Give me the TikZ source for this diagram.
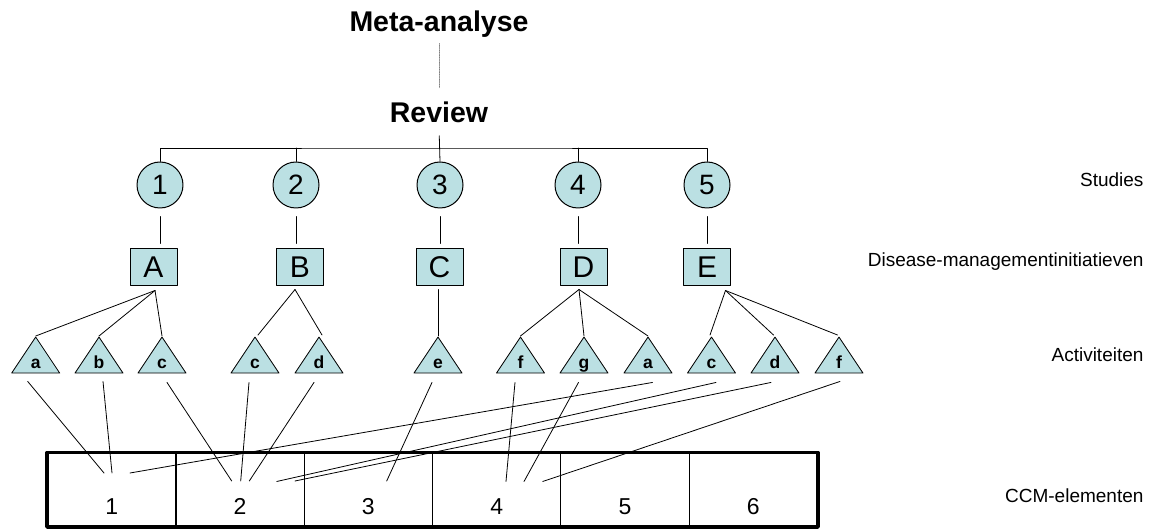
\documentclass[tikz,border=0pt]{standalone}
\usepackage{fontspec}
\setmainfont{Liberation Sans}
\usetikzlibrary{shapes.geometric,calc}
\definecolor{tealfill}{RGB}{187,224,227}
\tikzset{
  study/.style={circle, draw, line width=1pt, fill=tealfill, minimum size=46pt, inner sep=0pt, font=\fontsize{28}{28}\selectfont},
  dmi/.style={rectangle, draw, line width=1pt, fill=tealfill, minimum width=47pt, minimum height=37pt, inner sep=0pt, font=\fontsize{30}{30}\selectfont},
  act/.style={isosceles triangle, isosceles triangle stretches, shape border rotate=90, draw, line width=0.8pt, fill=tealfill, minimum width=48pt, minimum height=36pt, inner sep=0pt, anchor=apex},
  actlbl/.style={anchor=base, yshift=5pt, font=\fontsize{17.5}{17.5}\selectfont\bfseries},
  cell/.style={rectangle, draw, line width=1.2pt, minimum width=128.3pt, inner sep=0pt, text height=61.3pt, text depth=12pt, anchor=south west, font=\fontsize{23}{23}\selectfont},
  level/.style={anchor=base east, font=\fontsize{19}{19}\selectfont},
  head/.style={anchor=base, font=\fontsize{28.5}{28.5}\selectfont\bfseries},
  link/.style={line width=0.8pt}
}
\begin{document}
\begin{tikzpicture}[x=1pt, y=-1pt, line join=round, line cap=round]
\useasboundingbox (0,0) rectangle (1157,529);
% titles
\node[head] (meta) at (439,32) {Meta-analyse};
\node[head] (rev) at (439,123) {Review};
\draw[gray, densely dotted, line width=0.7pt, shorten <=2pt, shorten >=11pt] (meta.south) -- (rev.north);
% studies
\node[study] (s1) at (160,185) {1};
\node[study] (s2) at (296,185) {2};
\node[study] (s3) at (440,185) {3};
\node[study] (s4) at (578,185) {4};
\node[study] (s5) at (707,185) {5};
\coordinate (bar) at (440,148);
\draw[link] (s1.north) |- (bar) -| (s5.north);
\foreach \s in {s2,s4} \draw[link] (\s.north) -- (\s.north |- bar);
\draw[link, shorten <=9pt] (rev.south) -- (s3.north);
% disease-management initiatives
\node[dmi] (A) at (153.5,267.5) {A};
\node[dmi] (B) at (300,267.5) {B};
\node[dmi] (C) at (439.5,267.5) {C};
\node[dmi] (D) at (583.5,267.5) {D};
\node[dmi] (E) at (707,267.5) {E};
\draw[link, shorten <=8pt, shorten >=5pt] (s1.south) -- (s1.south |- A.north);
\draw[link, shorten <=8pt, shorten >=5pt] (s2.south) -- (s2.south |- B.north);
\draw[link, shorten <=8pt, shorten >=5pt] (s3.south) -- (s3.south |- C.north);
\draw[link, shorten <=8pt, shorten >=5pt] (s4.south) -- (s4.south |- D.north);
\draw[link, shorten <=8pt, shorten >=5pt] (s5.south) -- (s5.south |- E.north);
% activities
\node[act, label={[actlbl]south:a}] (Aa) at (35.7,336) {};
\node[act, label={[actlbl]south:b}] (Ab) at (99,336) {};
\node[act, label={[actlbl]south:c}] (Ac) at (162,336) {};
\node[act, label={[actlbl]south:c}] (Bc) at (255,336) {};
\node[act, label={[actlbl]south:d}] (Bd) at (319,336) {};
\node[act, label={[actlbl]south:e}] (Ce) at (438,336) {};
\node[act, label={[actlbl]south:f}] (Df) at (520.5,336) {};
\node[act, label={[actlbl]south:g}] (Dg) at (584,336) {};
\node[act, label={[actlbl]south:a}] (Da) at (648,336) {};
\node[act, label={[actlbl]south:c}] (Ec) at (711.5,336) {};
\node[act, label={[actlbl]south:d}] (Ed) at (775,336) {};
\node[act, label={[actlbl]south:f}] (Ef) at (839,336) {};
\foreach \t in {Aa,Ab,Ac} \draw[link] ($(A.south)+(1.5,4)$) -- (\t.apex);
\foreach \t in {Bc,Bd} \draw[link] ($(B.south)+(-5,3)$) -- ($(\t.apex)+(3,-1)$);
\draw[link] ($(C.south)+(-1.5,3)$) -- (Ce.apex);
\foreach \t in {Df,Dg,Da} \draw[link] ($(D.south)+(-4.5,3)$) -- (\t.apex);
\foreach \t in {Ec,Ed,Ef} \draw[link] ($(E.south east)+(-5.5,4)$) -- ($(\t.apex)+(-1.5,-1)$);
% CCM elements
\foreach \i in {1,...,6} \node[cell] (c\i) at ({47+128.3*(\i-1)},527) {\i};
\draw[line width=3.5pt] (c1.north west) rectangle (c6.south east);
\coordinate (p1a) at (104,473);
\coordinate (p1b) at (112,473);
\coordinate (p1c) at (130,473);
\coordinate (p2a) at (231.7,481);
\coordinate (p2b) at (240.7,481);
\coordinate (p2c) at (249.3,481);
\coordinate (p2d) at (276.7,481.5);
\coordinate (p2e) at (295,481);
\coordinate (p3a) at (386.7,481);
\coordinate (p4a) at (506,481.5);
\coordinate (p4b) at (524,481.5);
\coordinate (p4c) at (542.7,481.5);
\draw[link] ($(Aa.south)+(-8,8)$) -- (p1a);
\draw[link] ($(Ab.south)+(4,8)$) -- (p1b);
\draw[link] ($(Ac.south)+(5,9)$) -- (p2a);
\draw[link] ($(Bc.south)+(-6,9)$) -- (p2b);
\draw[link] ($(Bd.south)+(-5,9)$) -- (p2c);
\draw[link] ($(Ce.south)+(-6,9)$) -- (p3a);
\draw[link] ($(Df.south)+(-5.5,9)$) -- (p4a);
\draw[link] ($(Dg.south)+(-5.5,9)$) -- (p4b);
\draw[link] ($(Da.south)+(4.5,9)$) -- (p1c);
\draw[link] ($(Ec.south)+(4.5,9)$) -- (p2d);
\draw[link] ($(Ed.south)+(-4,9)$) -- (p2e);
\draw[link] ($(Ef.south)+(1,8)$) -- (p4c);
% level labels
\node[level] (lstud) at (1147,187) {Studies};
\node[level] (ldmi) at (1147,267) {Disease-managementinitiatieven};
\node[level] (lact) at (1147,362) {Activiteiten};
\node[level] (lccm) at (1147,502) {CCM-elementen};
\end{tikzpicture}
\end{document}
